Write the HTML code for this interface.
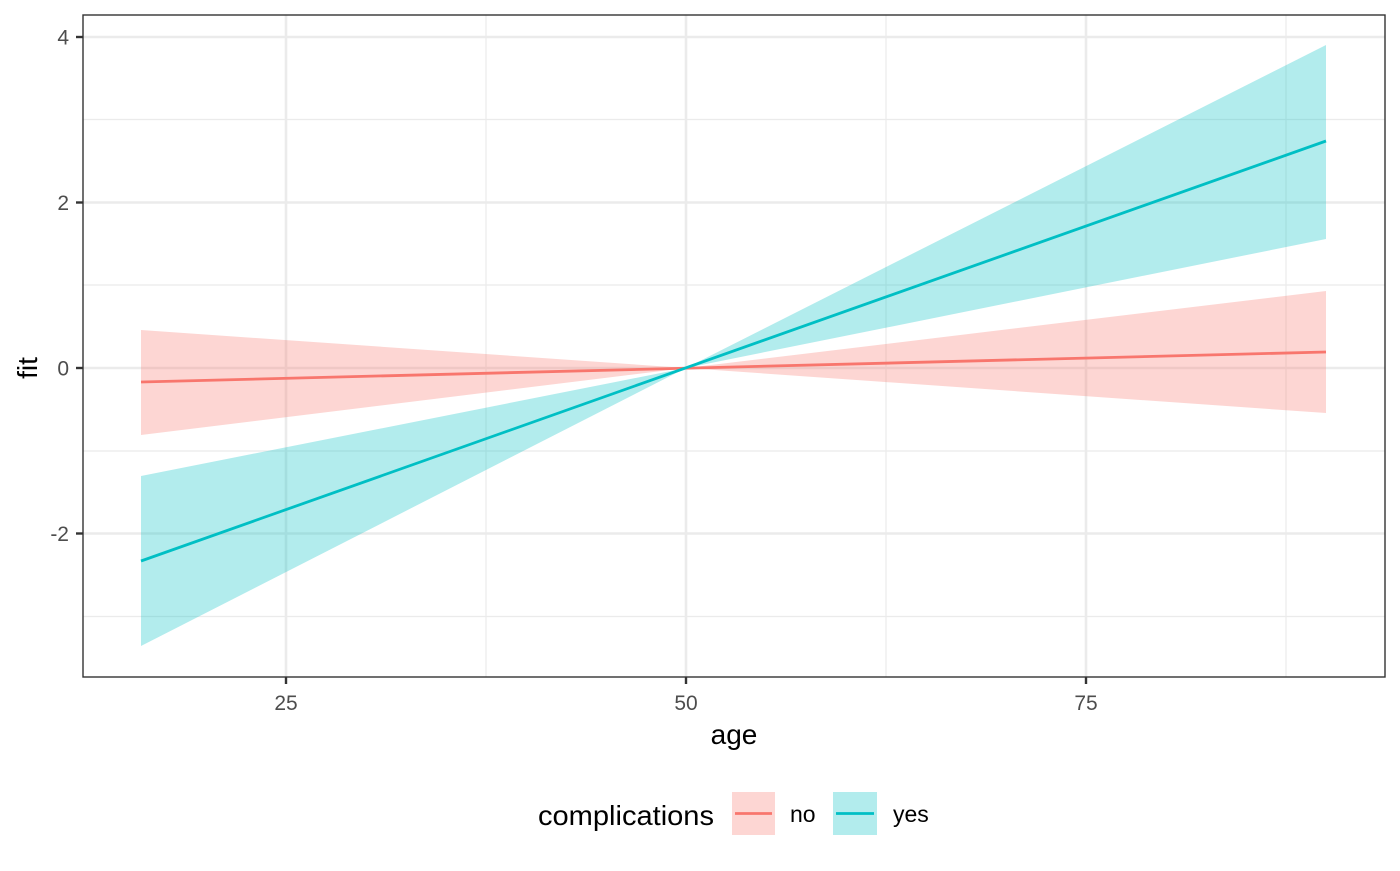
<!DOCTYPE html>
<html><head><meta charset="utf-8"><style>body{margin:0;background:#fff}</style></head><body>
<svg width="1400" height="866" xmlns="http://www.w3.org/2000/svg" font-family="Liberation Sans, sans-serif">
<rect width="1400" height="866" fill="#fff"/>
<g stroke="#ebebeb" stroke-width="1.2">
<line x1="83" x2="1385" y1="119.5" y2="119.5"/><line x1="83" x2="1385" y1="285" y2="285"/>
<line x1="83" x2="1385" y1="451" y2="451"/><line x1="83" x2="1385" y1="616.5" y2="616.5"/>
<line y1="15" y2="677" x1="486" x2="486"/><line y1="15" y2="677" x1="886" x2="886"/><line y1="15" y2="677" x1="1286" x2="1286"/>
</g>
<g stroke="#ebebeb" stroke-width="2.6">
<line x1="83" x2="1385" y1="37" y2="37"/><line x1="83" x2="1385" y1="202.5" y2="202.5"/>
<line x1="83" x2="1385" y1="368" y2="368"/><line x1="83" x2="1385" y1="533.5" y2="533.5"/>
<line y1="15" y2="677" x1="286" x2="286"/><line y1="15" y2="677" x1="686" x2="686"/><line y1="15" y2="677" x1="1086" x2="1086"/>
</g>
<polygon points="141,330 686,368 1326,291 1326,413 686,368 141,435" fill="#F8766D" fill-opacity="0.3"/>
<polygon points="141,476 686,368 1326,45 1326,239 686,368 141,646" fill="#00BFC4" fill-opacity="0.3"/>
<line x1="141" y1="382" x2="1326" y2="352" stroke="#F8766D" stroke-width="2.8"/>
<line x1="141" y1="561" x2="1326" y2="141" stroke="#00BFC4" stroke-width="2.8"/>
<rect x="83" y="15" width="1302" height="662" fill="none" stroke="#333" stroke-width="1.4"/>
<g stroke="#333" stroke-width="2.4">
<line x1="76" x2="83" y1="37" y2="37"/><line x1="76" x2="83" y1="202.5" y2="202.5"/>
<line x1="76" x2="83" y1="368" y2="368"/><line x1="76" x2="83" y1="533.5" y2="533.5"/>
<line y1="677" y2="684" x1="286" x2="286"/><line y1="677" y2="684" x1="686" x2="686"/><line y1="677" y2="684" x1="1086" x2="1086"/>
</g>
<g fill="#4d4d4d" font-size="21" text-anchor="end">
<text x="69" y="44.5">4</text><text x="69" y="210">2</text><text x="69" y="375.5">0</text><text x="69" y="541">-2</text>
</g>
<g fill="#4d4d4d" font-size="21" text-anchor="middle">
<text x="286" y="710">25</text><text x="686" y="710">50</text><text x="1086" y="710">75</text>
</g>
<text x="734" y="744" font-size="28" text-anchor="middle">age</text>
<text transform="translate(37,368) rotate(-90)" font-size="28" text-anchor="middle">fit</text>
<text x="538" y="825" font-size="28" textLength="176" lengthAdjust="spacingAndGlyphs">complications</text>
<rect x="732" y="792" width="43" height="43" fill="#F8766D" fill-opacity="0.3"/>
<line x1="735" x2="772" y1="813.5" y2="813.5" stroke="#F8766D" stroke-width="2.8"/>
<text x="790" y="822" font-size="23">no</text>
<rect x="833" y="792" width="44" height="43" fill="#00BFC4" fill-opacity="0.3"/>
<line x1="836" x2="874" y1="813.5" y2="813.5" stroke="#00BFC4" stroke-width="2.8"/>
<text x="893" y="822" font-size="23">yes</text>
</svg>
</body></html>
